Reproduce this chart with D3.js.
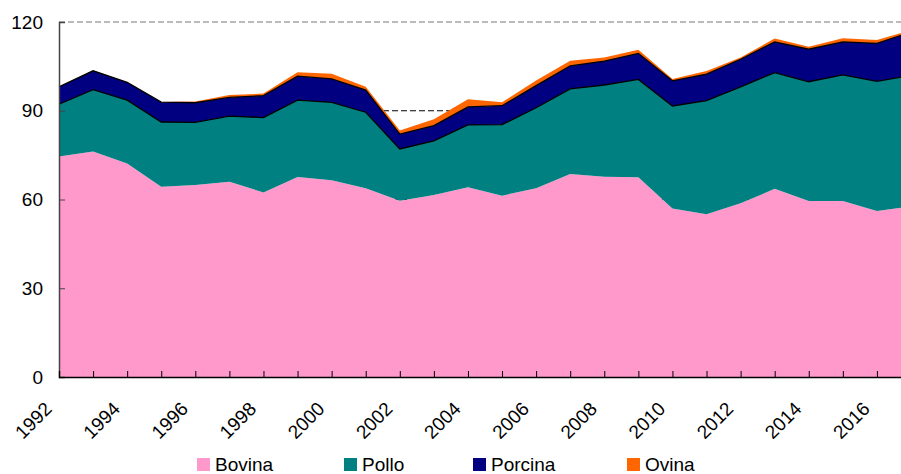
<!DOCTYPE html>
<html>
<head>
<meta charset="utf-8">
<script src="https://cdn.jsdelivr.net/npm/d3@7"></script>
<style>
  html, body { margin: 0; padding: 0; background: #fff; }
  svg { display: block; font-family: "Liberation Sans", Arial, sans-serif; }
</style>
</head>
<body>
<svg id="chart" width="901" height="474"></svg>
<script>
const years = [1992,1993,1994,1995,1996,1997,1998,1999,2000,2001,2002,2003,2004,2005,2006,2007,2008,2009,2010,2011,2012,2013,2014,2015,2016,2017];
const bovina  = [74.5,76.2,72.2,64.3,64.9,66.0,62.4,67.6,66.5,63.8,59.6,61.5,64.1,61.3,63.8,68.6,67.7,67.5,57.0,55.0,58.7,63.6,59.5,59.5,56.1,57.7];
const pollo   = [17.7,20.9,21.4,21.9,21.2,22.2,25.3,26.0,26.3,25.7,17.5,18.3,21.1,24.0,27.2,28.8,31.0,33.1,34.6,38.4,39.4,39.3,40.3,42.6,43.8,44.3];
const porcina = [5.9,6.4,6.0,6.7,6.6,6.3,7.4,8.1,8.0,7.5,5.0,5.2,6.1,6.4,7.5,7.8,8.1,8.8,8.5,9.0,9.3,10.4,11.0,11.2,12.9,14.6];
const ovina   = [0.1,0.1,0.1,0.1,0.4,0.8,0.7,1.3,1.7,1.1,1.2,2.1,2.6,1.2,1.7,1.7,1.2,1.2,0.6,1.0,0.6,1.1,0.8,1.2,1.1,0.7];
const seriesNames = ["Bovina","Pollo","Porcina","Ovina"];
const seriesColors = ["#FF99CC","#008080","#000080","#FF6600"];
const yTicks = [0,30,60,90,120];
const xLabelYears = [1992,1994,1996,1998,2000,2002,2004,2006,2008,2010,2012,2014,2016];

const svg = d3.select("#chart");
const table = years.map((y,i) => ({year:y, Bovina:bovina[i], Pollo:pollo[i], Porcina:porcina[i], Ovina:ovina[i]}));

const x = d3.scaleLinear().domain([1992, 2017]).range([59, 911]);
const y = d3.scaleLinear().domain([0, 120]).range([377, 22]);

// gridlines
svg.append("g").selectAll("line").data([30,60,90,120]).join("line")
  .attr("x1", 59).attr("x2", 901)
  .attr("y1", d => y(d)).attr("y2", d => y(d))
  .attr("stroke", d => d === 120 ? "#777" : "#000").attr("stroke-width", 1)
  .attr("stroke-dasharray", "6,3");

const stack = d3.stack().keys(seriesNames);
const layers = stack(table);

const area = d3.area()
  .x(d => x(d.data.year))
  .y0(d => y(d[0]))
  .y1(d => y(d[1]));

svg.append("g").selectAll("path").data(layers).join("path")
  .attr("d", area)
  .attr("fill", (d,i) => seriesColors[i]);

// black top outlines for Pollo and Porcina
const topLine = d3.line().x(d => x(d.data.year)).y(d => y(d[1]));
svg.append("g").selectAll("path").data([layers[1], layers[2]]).join("path")
  .attr("d", topLine)
  .attr("fill", "none").attr("stroke", "#000").attr("stroke-width", 1.3);

// y axis
const yAxis = d3.axisLeft(y).tickValues(yTicks).tickSize(-6).tickPadding(16);
const gy = svg.append("g").attr("transform", "translate(59,0)").call(yAxis);
gy.select(".domain").attr("stroke", "#444").attr("stroke-width", 1.5);
gy.selectAll(".tick line").attr("stroke", "#444");
gy.selectAll("text").attr("font-size", 19).attr("fill", "#000")
  .attr("font-family", "'Liberation Sans', Arial, sans-serif");

// x axis
const xAxis = d3.axisBottom(x).tickValues(years.slice(0, 25)).tickSize(-6).tickFormat("");
const gx = svg.append("g").attr("transform", "translate(0,377)").call(xAxis);
gx.select(".domain").attr("stroke", "#000").attr("stroke-width", 1.3);
gx.selectAll(".tick line").attr("stroke", "#000");

svg.append("g").selectAll("text").data(xLabelYears).join("text")
  .attr("transform", d => `translate(${x(d) - 6},${410}) rotate(-45)`)
  .attr("text-anchor", "end")
  .attr("font-size", 19)
  .attr("fill", "#000")
  .text(d => d);

// legend
const legendX = [197, 344, 473, 627];
const lg = svg.append("g").selectAll("g").data(seriesNames).join("g")
  .attr("transform", (d,i) => `translate(${legendX[i]},458)`);
lg.append("rect").attr("width", 13).attr("height", 13)
  .attr("fill", (d,i) => seriesColors[i]);
lg.append("text").attr("x", 18).attr("y", 13)
  .attr("font-size", 19).attr("fill", "#000").text(d => d);
</script>
</body>
</html>
